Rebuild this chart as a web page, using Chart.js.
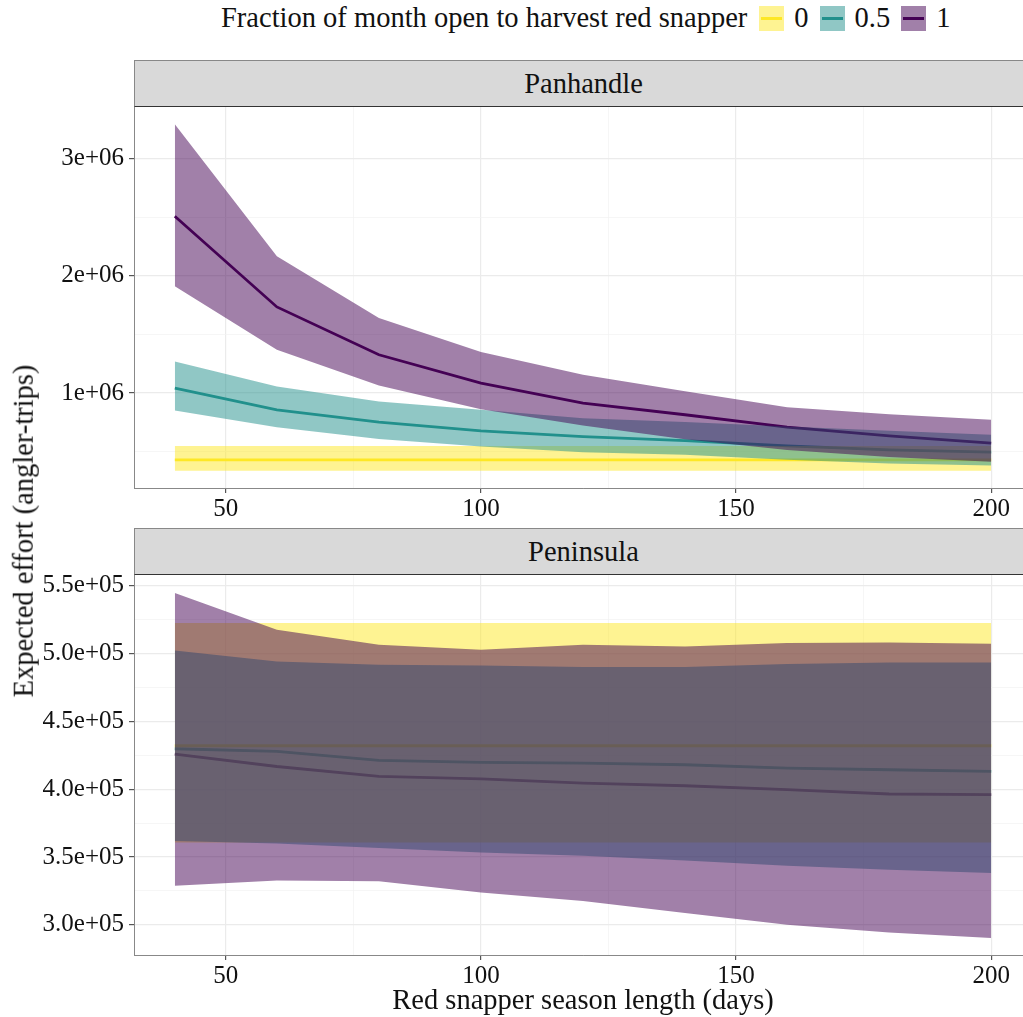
<!DOCTYPE html>
<html>
<head>
<meta charset="utf-8">
<script src="https://cdn.jsdelivr.net/npm/chart.js@4.4.0/dist/chart.umd.min.js"></script>
<style>
  html, body { margin: 0; padding: 0; background: #fff; }
  body {
    width: 1023px; height: 1017px; overflow: hidden; position: relative;
    font-family: "Liberation Serif", "Times New Roman", serif; color: #111;
  }
  .strip {
    position: absolute; left: 134px; width: 898px; height: 47px;
    box-sizing: border-box; background: #d9d9d9;
    border-top: 1px solid #888; border-left: 1px solid #888; border-bottom: 1.5px solid #333;
    font-size: 28.5px; line-height: 45px; text-align: center;
  }
  .panel { position: absolute; left: 0; width: 1032px; }
  #legend {
    position: absolute; left: 221px; top: 4px; display: flex; align-items: center;
    font-size: 28.5px; line-height: 28.5px; white-space: nowrap;
  }
  #legend .key { width: 25px; height: 25px; position: relative; margin-right: 10px; }
  #legend .key span { position: absolute; left: 2px; right: 2px; top: 11px; height: 3px; }
  #legend .lab { margin-right: 11px; }
  #ytitle {
    position: absolute; left: 24px; top: 531px; font-size: 28.5px; line-height: 1;
    white-space: nowrap; transform: translate(-50%, -50%) rotate(-90deg);
  }
  #xtitle {
    position: absolute; left: 134px; width: 898px; top: 986px; text-align: center;
    font-size: 28.5px; line-height: 28.5px;
  }
</style>
</head>
<body>

<div id="legend"><span style="margin-right:12px">Fraction of month open to harvest red snapper</span></div>

<div class="strip" style="top:60px">Panhandle</div>
<div class="panel" style="top:107px"><canvas id="panhandle" width="1032" height="417"></canvas></div>

<div class="strip" style="top:528px">Peninsula</div>
<div class="panel" style="top:575px"><canvas id="peninsula" width="1032" height="416"></canvas></div>

<div id="ytitle">Expected effort (angler-trips)</div>
<div id="xtitle">Red snapper season length (days)</div>

<script>
// ===== Data =====
const seasonDays = [40, 60, 80, 100, 120, 140, 160, 180, 200];
const fractionNames = ["0", "0.5", "1"];
const lineColors = ["#FDE725", "#21908C", "#440154"];
const ribbonColors = ["rgba(253, 231, 37, 0.5)", "rgba(33, 144, 140, 0.5)", "rgba(68, 1, 84, 0.5)"];

// Panhandle
const panMid0 = [430000, 430000, 430000, 430000, 430000, 430000, 430000, 430000, 430000];
const panLow0 = [338000, 338000, 338000, 338000, 338000, 338000, 338000, 338000, 338000];
const panHigh0 = [549000, 549000, 549000, 549000, 549000, 549000, 549000, 549000, 549000];
const panMid05 = [1043000, 857000, 752000, 678000, 629000, 595000, 550000, 515000, 496000];
const panLow05 = [851000, 709000, 609000, 544000, 496000, 473000, 430000, 400000, 381000];
const panHigh05 = [1270000, 1056000, 928000, 857000, 786000, 754000, 715000, 678000, 644000];
const panMid1 = [2509000, 1735000, 1327000, 1085000, 914000, 815000, 710000, 635000, 573000];
const panLow1 = [1911000, 1370000, 1065000, 863000, 723000, 605000, 515000, 455000, 415000];
const panHigh1 = [3293000, 2168000, 1641000, 1350000, 1156000, 1015000, 880000, 820000, 772000];

// Peninsula
const penMid0 = [432000, 432000, 432000, 432000, 432000, 432000, 432000, 432000, 432000];
const penLow0 = [360700, 360700, 360700, 360700, 360700, 360700, 360700, 360700, 360700];
const penHigh0 = [522500, 522500, 522500, 522500, 522500, 522500, 522500, 522500, 522500];
const penMid05 = [429800, 427800, 421200, 419700, 419200, 418000, 415500, 414300, 413100];
const penLow05 = [361700, 360000, 356600, 353300, 350900, 347400, 343500, 340600, 338100];
const penHigh05 = [502300, 494200, 491700, 491200, 490000, 490000, 492300, 493400, 493400];
const penMid1 = [425900, 416700, 409400, 407500, 404500, 402500, 399600, 396400, 395900];
const penLow1 = [328800, 332700, 332000, 323800, 317500, 308600, 300000, 294300, 290200];
const penHigh1 = [544600, 517500, 506500, 502800, 506500, 505200, 507700, 508200, 507200];

// Tick labels
const xTicks = [50, 100, 150, 200];
const xLabels = ["50", "100", "150", "200"];
const xMinor = [75, 125, 175];
const panTicks = [1000000, 2000000, 3000000];
const panLabels = ["1e+06", "2e+06", "3e+06"];
const panMinor = [500000, 1500000, 2500000];
const penTicks = [300000, 350000, 400000, 450000, 500000, 550000];
const penLabels = ["3.0e+05", "3.5e+05", "4.0e+05", "4.5e+05", "5.0e+05", "5.5e+05"];
const penMinor = [325000, 375000, 425000, 475000, 525000];

// ===== Legend =====
const legend = document.getElementById("legend");
fractionNames.forEach((name, i) => {
  const key = document.createElement("div");
  key.className = "key";
  key.style.background = ribbonColors[i];
  const bar = document.createElement("span");
  bar.style.background = lineColors[i];
  key.appendChild(bar);
  const lab = document.createElement("span");
  lab.className = "lab";
  lab.textContent = name;
  legend.appendChild(key);
  legend.appendChild(lab);
});

// ===== Charts =====
Chart.defaults.font.family = "'Liberation Serif', 'Times New Roman', serif";

const pts = (arr) => seasonDays.map((d, i) => ({ x: d, y: arr[i] }));

function buildDatasets(mids, lows, highs) {
  const ds = [];
  // lines first in draw order (ribbons are laid over them)
  mids.forEach((m, i) => {
    ds.push({ data: pts(m), borderColor: lineColors[i], borderWidth: 2.8, fill: false, order: 10 });
  });
  highs.forEach((h, i) => {
    const lowIndex = ds.length + 1;
    ds.push({ data: pts(h), borderWidth: 0, borderColor: "rgba(0,0,0,0)", backgroundColor: ribbonColors[i], fill: lowIndex, order: 3 - i });
    ds.push({ data: pts(lows[i]), borderWidth: 0, borderColor: "rgba(0,0,0,0)", fill: false, order: 5 });
  });
  return ds;
}

function tickList(major, minor) {
  return major.map(v => ({ value: v, minor: false }))
    .concat(minor.map(v => ({ value: v, minor: true })))
    .sort((a, b) => a.value - b.value);
}

const gridOpts = {
  color: c => (c.tick && c.tick.minor ? "#f2f2f2" : "#ebebeb"),
  lineWidth: c => (c.tick && c.tick.minor ? 0.7 : 1.2),
  tickColor: c => (c.tick && c.tick.minor ? "rgba(0,0,0,0)" : "#555"),
  tickLength: 5,
};

function makePanel(id, datasets, yMin, yMax, yMajor, yLabelsArr, yMinor) {
  new Chart(document.getElementById(id), {
    type: "line",
    data: { datasets },
    options: {
      responsive: false,
      animation: false,
      events: [],
      layout: { padding: 0 },
      elements: { point: { radius: 0 }, line: { tension: 0, borderCapStyle: "butt" } },
      plugins: { legend: { display: false }, tooltip: { enabled: false } },
      scales: {
        x: {
          type: "linear",
          min: 32,
          max: 208,
          border: { color: "#888", width: 1 },
          grid: gridOpts,
          ticks: {
            autoSkip: false,
            maxRotation: 0,
            padding: 1,
            color: "#111",
            font: { family: "'Liberation Serif', serif", size: 25 },
            callback: (v, i, ticks) => (ticks[i].minor ? "" : xLabels[xTicks.indexOf(v)]),
          },
          afterBuildTicks: axis => { axis.ticks = tickList(xTicks, xMinor); },
          afterFit: axis => { axis.height = 36; axis.paddingLeft = 0; axis.paddingRight = 0; },
        },
        y: {
          min: yMin,
          max: yMax,
          border: { color: "#888", width: 1 },
          grid: gridOpts,
          ticks: {
            autoSkip: false,
            padding: 5,
            color: "#111",
            font: { family: "'Liberation Serif', serif", size: 25 },
            callback: (v, i, ticks) => (ticks[i].minor ? "" : yLabelsArr[yMajor.indexOf(v)]),
          },
          afterBuildTicks: axis => { axis.ticks = tickList(yMajor, yMinor); },
          afterFit: axis => { axis.width = 134; axis.paddingTop = 0; axis.paddingBottom = 0; },
        },
      },
    },
  });
}

makePanel(
  "panhandle",
  buildDatasets([panMid0, panMid05, panMid1], [panLow0, panLow05, panLow1], [panHigh0, panHigh05, panHigh1]),
  190000, 3441000, panTicks, panLabels, panMinor
);

makePanel(
  "peninsula",
  buildDatasets([penMid0, penMid05, penMid1], [penLow0, penLow05, penLow1], [penHigh0, penHigh05, penHigh1]),
  277700, 557900, penTicks, penLabels, penMinor
);
</script>
</body>
</html>
